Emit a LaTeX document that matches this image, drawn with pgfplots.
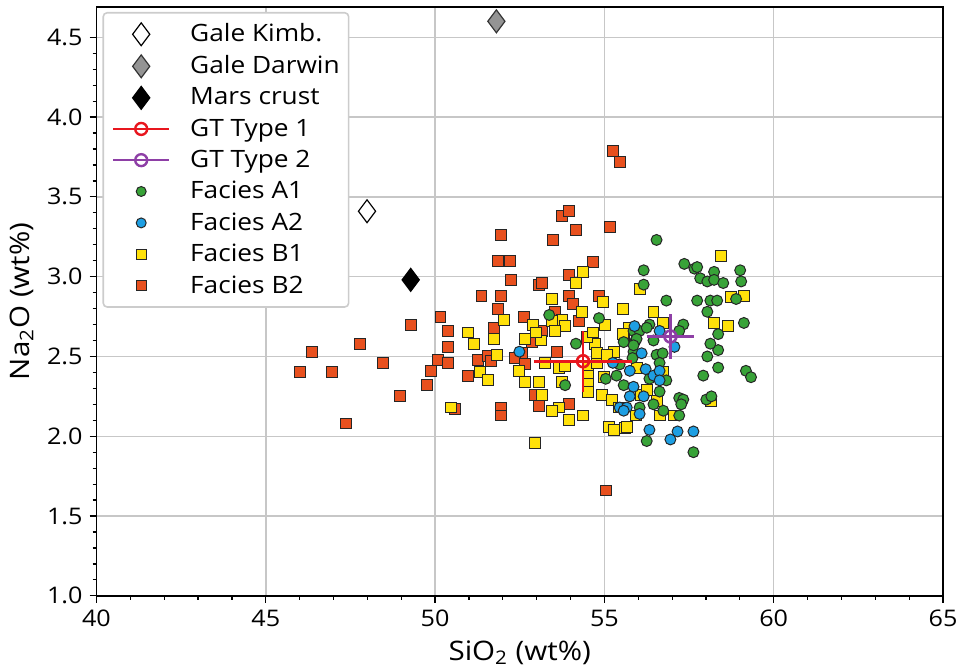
\documentclass[border=0pt]{standalone}
\usepackage{fontspec}
\setmainfont{Open Sans}[FakeStretch=1.1]
\usepackage{pgfplots}
\pgfplotsset{compat=1.18}
\definecolor{cA1}{HTML}{38A338}
\definecolor{cA2}{HTML}{1E9FE3}
\definecolor{cB1}{HTML}{FFE10A}
\definecolor{cB2}{HTML}{E8501E}
\definecolor{cGT1}{HTML}{E8161E}
\definecolor{cGT2}{HTML}{8E3FA6}
\definecolor{edge}{HTML}{262626}
\begin{document}
\begin{tikzpicture}
\begin{axis}[
 width=425.5pt, height=296pt, scale only axis,
 clip mode=individual,
 xmin=40, xmax=65, ymin=1, ymax=4.69,
 xtick={40,45,50,55,60,65}, ytick={1,1.5,2,2.5,3,3.5,4,4.5},
 minor x tick num=4, minor y tick num=4,
 grid=major, major grid style={black!22, line width=0.75pt},
 tick align=outside, tick pos=left,
 major tick length=3.5pt, minor tick length=2pt,
 every tick/.style={black, line width=0.6pt},
 axis line style={line width=0.8pt},
 yticklabel style={/pgf/number format/.cd, fixed, fixed zerofill, precision=1},
 /pgf/number format/assume math mode=true,
 tick label style={font=\fontsize{11.5}{13}\selectfont},
 label style={font=\fontsize{13.5}{15}\selectfont},
 xlabel={SiO\textsubscript{2} (wt\%)}, ylabel={Na\textsubscript{2}O (wt\%)},
 legend style={at={(0.007,0.9915)}, anchor=north west, draw=black!20, rounded corners=2pt, line width=0.8pt,
   font=\fontsize{12}{14}\selectfont, row sep=1.5pt, inner xsep=2.5pt, inner ysep=3.5pt},
 legend cell align=left,
 legend image code/.code={\path (-2pt,0pt) (36pt,0pt);\draw[mark repeat=2,mark phase=2,#1] plot coordinates {(0pt,0pt)(14pt,0pt)(28pt,0pt)};},
]
% Facies B2
\addplot[only marks, mark=square*, mark size=2.75pt, mark options={fill=cB2, draw=edge, line width=0.5pt}, forget plot] coordinates {
(46.00,2.40)(46.37,2.53)(46.96,2.40)(47.78,2.58)(48.46,2.46)(47.37,2.08)(48.96,2.25)(49.75,2.32)(49.87,2.41)(49.28,2.70)
(50.16,2.75)(50.08,2.48)(50.37,2.66)(50.37,2.56)(50.37,2.46)(50.58,2.17)(50.96,2.38)(51.28,2.48)(51.57,2.50)(51.66,2.47)
(51.96,2.18)(51.96,2.13)(51.75,2.68)(51.37,2.88)(51.96,2.88)(51.87,2.80)(51.87,3.10)(52.22,3.10)(52.25,2.98)(51.96,3.26)
(52.63,2.75)(52.57,2.52)(52.37,2.49)(52.66,2.45)(52.96,2.26)(53.07,2.19)(53.95,2.20)(53.60,2.53)(53.07,2.95)(53.16,2.96)
(53.48,3.23)(53.75,3.38)(53.95,3.41)(54.16,3.29)(55.16,3.31)(55.25,3.79)(55.45,3.72)(54.66,3.09)(53.95,3.01)(53.95,2.88)
(54.07,2.83)(54.84,2.88)(53.54,2.78)(54.25,2.72)(53.16,2.66)(52.87,2.59)(55.04,1.66)
};
% Facies B1
\addplot[only marks, mark=square*, mark size=2.75pt, mark options={fill=cB1, draw=edge, line width=0.5pt}, forget plot] coordinates {
(50.96,2.65)(51.16,2.58)(51.75,2.61)(52.04,2.73)(51.84,2.51)(51.34,2.40)(51.57,2.35)(50.46,2.18)(52.49,2.41)(53.25,2.46)
(53.66,2.43)(53.84,2.44)(52.66,2.34)(53.07,2.34)(53.16,2.26)(53.75,2.34)(53.66,2.18)(53.45,2.16)(53.95,2.10)(54.37,2.13)
(52.96,1.96)(54.51,2.43)(54.51,2.38)(54.51,2.33)(54.51,2.28)(54.78,2.46)(54.98,2.37)(54.92,2.26)(55.22,2.23)(55.42,2.18)
(55.13,2.06)(55.28,2.04)(55.60,2.05)(54.37,3.03)(54.16,2.96)(53.45,2.86)(54.95,2.84)(55.54,2.80)(54.34,2.78)(53.75,2.73)
(53.45,2.72)(53.84,2.69)(55.01,2.70)(53.13,2.60)(53.54,2.66)(52.90,2.70)(52.98,2.65)(52.66,2.61)(54.72,2.58)(54.48,2.62)
(54.66,2.65)(55.57,2.63)(55.28,2.53)(56.04,2.92)(56.45,2.78)(56.74,2.71)(55.72,2.68)(55.54,2.64)(58.45,3.13)(58.74,2.87)
(59.12,2.88)(58.24,2.71)(58.65,2.69)(58.16,2.22)(55.95,2.43)(56.74,2.40)(56.07,2.26)(56.27,2.29)(56.54,2.22)(56.63,2.13)
(57.04,2.13)(55.92,2.13)(55.66,2.06)(54.78,2.52)(55.07,2.51)
};
% Facies A1
\addplot[only marks, mark=*, mark size=2.75pt, mark options={fill=cA1, draw=edge, line width=0.5pt}, forget plot] coordinates {
(56.54,3.23)(56.16,3.04)(56.16,2.95)(56.83,2.85)(54.84,2.74)(53.37,2.76)(54.16,2.58)(53.84,2.32)(55.57,2.59)(55.86,2.66)
(56.04,2.66)(55.92,2.60)(56.33,2.70)(56.45,2.60)(57.33,2.70)(57.21,2.66)(56.54,2.51)(56.72,2.52)(55.86,2.53)(55.45,2.45)
(55.04,2.36)(55.36,2.38)(55.57,2.32)(56.33,2.36)(56.83,2.35)(56.63,2.28)(56.45,2.20)(56.04,2.18)(56.74,2.16)(57.21,2.13)
(57.21,2.24)(57.33,2.23)(58.01,2.23)(58.16,2.25)(57.92,2.38)(56.25,1.97)(57.63,1.90)(55.95,2.61)(55.83,2.49)(58.04,2.50)
(58.36,2.54)(58.36,2.43)(58.13,2.58)(58.36,2.64)(59.18,2.41)(59.33,2.37)(59.12,2.71)(57.36,3.08)(57.66,3.05)(57.74,3.06)
(57.83,2.99)(58.04,2.97)(58.24,3.03)(58.24,2.98)(58.51,2.96)(57.74,2.85)(58.13,2.85)(58.33,2.85)(58.04,2.78)(56.63,2.46)
(57.27,2.20)(56.25,2.68)(55.86,2.57)(59.01,3.04)(59.04,2.97)(58.89,2.86)
};
% Facies A2
\addplot[only marks, mark=*, mark size=2.75pt, mark options={fill=cA2, draw=edge, line width=0.5pt}, forget plot] coordinates {
(52.49,2.53)(56.63,2.66)(57.07,2.56)(55.89,2.69)(56.22,2.42)(56.45,2.38)(56.63,2.41)(55.75,2.41)(56.63,2.35)(55.86,2.31)
(55.75,2.25)(56.16,2.25)(55.45,2.18)(55.66,2.18)(56.04,2.14)(56.33,2.04)(56.95,1.98)(57.16,2.03)(57.63,2.03)(55.57,2.16)
(55.25,2.46)(56.10,2.52)
};
% reference points
\addplot[only marks, mark=diamond*, mark size=5.75pt, mark options={fill=white, draw=black, line width=0.6pt}, forget plot] coordinates {(47.99,3.41)};
\addplot[only marks, mark=diamond*, mark size=5.75pt, mark options={fill=black!42, draw=black!80, line width=0.6pt}, forget plot] coordinates {(51.81,4.60)};
\addplot[only marks, mark=diamond*, mark size=5.75pt, mark options={fill=black, draw=black, line width=0.6pt}, forget plot] coordinates {(49.28,2.98)};
% GT Type 1: mean 54.37, 2.47; sd 1.45, 0.19
\addplot[cGT1, line width=1.3pt, forget plot] coordinates {(52.92,2.47) (55.82,2.47)};
\addplot[cGT1, line width=1.3pt, forget plot] coordinates {(54.37,2.28) (54.37,2.66)};
\addplot[cGT1, only marks, mark=o, mark size=3pt, mark options={line width=1.3pt}, forget plot] coordinates {(54.37,2.47)};
% GT Type 2: mean 56.95, 2.625; sd 0.7, 0.14
\addplot[cGT2, line width=1.3pt, forget plot] coordinates {(56.25,2.625) (57.65,2.625)};
\addplot[cGT2, line width=1.3pt, forget plot] coordinates {(56.95,2.485) (56.95,2.765)};
\addplot[cGT2, only marks, mark=o, mark size=3pt, mark options={line width=1.3pt}, forget plot] coordinates {(56.95,2.625)};
% legend
\addlegendimage{only marks, mark=diamond*, mark size=5.75pt, mark options={fill=white, draw=black, line width=0.6pt}}
\addlegendentry{Gale Kimb.}
\addlegendimage{only marks, mark=diamond*, mark size=5.75pt, mark options={fill=black!42, draw=black!80, line width=0.6pt}}
\addlegendentry{Gale Darwin}
\addlegendimage{only marks, mark=diamond*, mark size=5.75pt, mark options={fill=black, draw=black, line width=0.6pt}}
\addlegendentry{Mars crust}
\addlegendimage{cGT1, line width=1.2pt, mark=o, mark size=3pt}
\addlegendentry{GT Type 1}
\addlegendimage{cGT2, line width=1.2pt, mark=o, mark size=3pt}
\addlegendentry{GT Type 2}
\addlegendimage{only marks, mark=*, mark size=2.5pt, mark options={fill=cA1, draw=edge, line width=0.5pt}}
\addlegendentry{Facies A1}
\addlegendimage{only marks, mark=*, mark size=2.5pt, mark options={fill=cA2, draw=edge, line width=0.5pt}}
\addlegendentry{Facies A2}
\addlegendimage{only marks, mark=square*, mark size=2.5pt, mark options={fill=cB1, draw=edge, line width=0.5pt}}
\addlegendentry{Facies B1}
\addlegendimage{only marks, mark=square*, mark size=2.5pt, mark options={fill=cB2, draw=edge, line width=0.5pt}}
\addlegendentry{Facies B2}
\end{axis}
\path ([shift={(-48.5pt,-36pt)}]current axis.south west) rectangle ([shift={(8pt,3.5pt)}]current axis.north east);
\end{tikzpicture}
\end{document}
